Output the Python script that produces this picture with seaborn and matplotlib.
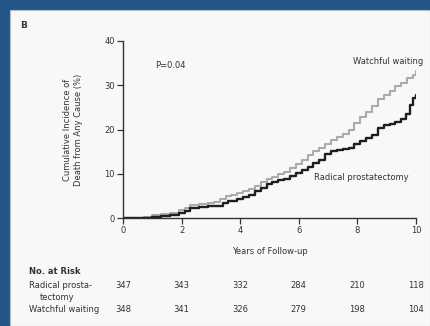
import matplotlib
matplotlib.use("Agg")
import matplotlib.pyplot as plt
import matplotlib.patches as mpatches
import matplotlib.transforms as mtransforms
import numpy as np
import pandas as pd
import seaborn as sns

# ---- data ----
ww_years = [0, 0.4, 0.7, 1.0, 1.3, 1.6, 1.9, 2.1, 2.3, 2.6,
            2.9, 3.1, 3.3, 3.5, 3.7, 3.9, 4.1, 4.3, 4.5, 4.7,
            4.9, 5.1, 5.3, 5.5, 5.7, 5.9, 6.1, 6.3, 6.5, 6.7,
            6.9, 7.1, 7.3, 7.5, 7.7, 7.9, 8.1, 8.3, 8.5, 8.7,
            8.9, 9.1, 9.3, 9.5, 9.7, 9.9, 10.0]
ww_values = [0, 0.1, 0.3, 0.6, 0.9, 1.2, 1.7, 2.3, 3.0, 3.2,
             3.5, 3.7, 4.2, 4.9, 5.2, 5.6, 6.1, 6.6, 7.3, 8.1,
             8.8, 9.3, 9.9, 10.4, 11.2, 12.2, 13.0, 14.2, 15.2, 15.9,
             16.8, 17.6, 18.2, 18.9, 20.0, 21.4, 22.8, 24.0, 25.2, 26.8,
             27.8, 28.8, 29.8, 30.6, 31.6, 32.4, 33.3]
rp_years = [0, 0.5, 1.0, 1.3, 1.6, 1.9, 2.1, 2.3, 2.6, 2.9,
            3.2, 3.4, 3.6, 3.9, 4.1, 4.3, 4.5, 4.7, 4.9, 5.1,
            5.3, 5.5, 5.7, 5.9, 6.1, 6.3, 6.5, 6.7, 6.9, 7.1,
            7.3, 7.5, 7.7, 7.9, 8.1, 8.3, 8.5, 8.7, 8.9, 9.1,
            9.3, 9.5, 9.65, 9.8, 9.9, 10.0]
rp_values = [0, 0.1, 0.3, 0.5, 0.75, 1.1, 1.5, 2.3, 2.5, 2.6,
             2.7, 3.4, 3.8, 4.3, 4.8, 5.3, 6.0, 6.8, 7.6, 8.2,
             8.6, 8.9, 9.5, 10.2, 10.9, 11.6, 12.4, 13.2, 14.4, 15.2,
             15.4, 15.6, 15.8, 16.8, 17.4, 18.0, 18.8, 20.3, 21.0, 21.3,
             21.8, 22.4, 23.6, 25.5, 27.2, 27.7]

risk_years = [0, 2, 4, 6, 8, 10]
risk_rp = [347, 343, 332, 284, 210, 118]
risk_ww = [348, 341, 326, 279, 198, 104]
x_ticks = [0, 2, 4, 6, 8, 10]
y_ticks = [0, 10, 20, 30, 40]

sns.set_theme(style="white")
plt.rcParams['font.family'] = ['DejaVu Sans']

W, H = 430, 326
fig = plt.figure(figsize=(W / 100, H / 100), dpi=100)
fig.patch.set_facecolor('#25568a')

# white panel
panel = mpatches.Rectangle((10 / W, 0), 1 - 10 / W, (H - 10) / H, transform=fig.transFigure,
                           facecolor='#f8f8f8', edgecolor='#b8b8b8', linewidth=0.8, zorder=-10)
fig.add_artist(panel)

ax = fig.add_axes([123 / W, 1 - 218 / H, (416 - 123) / W, (218 - 41) / H])
ax.set_zorder(5)
ax.set_facecolor('none')

df_ww = pd.DataFrame({'years': ww_years, 'value': ww_values})
df_rp = pd.DataFrame({'years': rp_years, 'value': rp_values})
sns.lineplot(data=df_ww, x='years', y='value', ax=ax, drawstyle='steps-post',
             color='#ababab', linewidth=1.5)
sns.lineplot(data=df_rp, x='years', y='value', ax=ax, drawstyle='steps-post',
             color='#1e1e1e', linewidth=1.7)

ax.set_xlim(0, 10)
ax.set_ylim(0, 40)
ax.set_xticks(x_ticks)
ax.set_yticks(y_ticks)
ax.set_xlabel('')
ax.set_ylabel('')
for s in ['top', 'right']:
    ax.spines[s].set_visible(False)
for s in ['left', 'bottom']:
    ax.spines[s].set_color('#333333')
    ax.spines[s].set_linewidth(1.0)
ax.tick_params(axis='both', which='major', direction='out', length=4, width=0.9,
               color='#333333', labelsize=6, labelcolor='#333333', pad=2,
               bottom=True, left=True)

tc = '#333333'
fig.text(20 / W, 1 - 25 / H, 'B', fontsize=6.5, fontweight='bold', color=tc, va='center')
fig.text(73 / W, 1 - 130 / H, 'Cumulative Incidence of\nDeath from Any Cause (%)', rotation=90,
         fontsize=6, color=tc, ha='center', va='center', linespacing=1.3)
fig.text(155 / W, 1 - 65 / H, 'P=0.04', fontsize=6, color=tc, va='center')
fig.text(423 / W, 1 - 62 / H, 'Watchful waiting', fontsize=6, color=tc, ha='right', va='center')
fig.text(314 / W, 1 - 177 / H, 'Radical prostatectomy', fontsize=6, color=tc, ha='left', va='center')
fig.text(270 / W, 1 - 251 / H, 'Years of Follow-up', fontsize=6, color=tc, ha='center', va='center')

fig.text(29 / W, 1 - 271 / H, 'No. at Risk', fontsize=6, fontweight='bold', color=tc, va='center')
fig.text(29 / W, 1 - 285 / H, 'Radical prosta-', fontsize=6, color=tc, va='center')
fig.text(40 / W, 1 - 297 / H, 'tectomy', fontsize=6, color=tc, va='center')
fig.text(29 / W, 1 - 310 / H, 'Watchful waiting', fontsize=6, color=tc, va='center')

trans = mtransforms.blended_transform_factory(ax.transData, fig.transFigure)
for yr, a, b in zip(risk_years, risk_rp, risk_ww):
    ax.text(yr, 1 - 285 / H, str(a), transform=trans, fontsize=6, color=tc,
            ha='center', va='center', clip_on=False)
    ax.text(yr, 1 - 310 / H, str(b), transform=trans, fontsize=6, color=tc,
            ha='center', va='center', clip_on=False)

fig.savefig('out.png', dpi=100, facecolor=fig.get_facecolor())
